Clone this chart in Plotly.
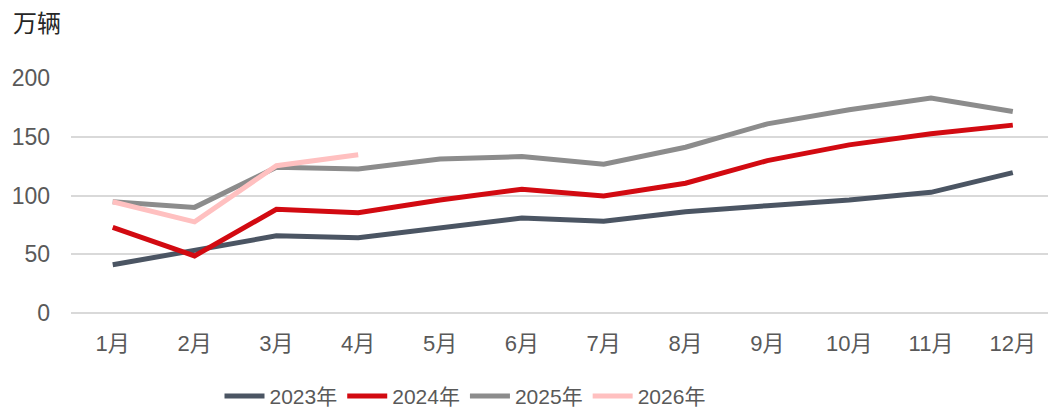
import plotly.graph_objects as go

months = ["1月", "2月", "3月", "4月", "5月", "6月", "7月", "8月", "9月", "10月", "11月", "12月"]
y2023 = [41, 53.5, 65.7, 64, 72.5, 80.8, 78, 86.2, 91.3, 96.2, 102.7, 119.5]
y2024 = [72.9, 48.6, 88.2, 85.3, 96.2, 105.3, 99.6, 110.4, 129.7, 143.1, 152.5, 159.9]
y2025 = [94.7, 89.9, 124, 122.6, 131.1, 133.1, 126.6, 141.1, 161, 173, 182.9, 171.5]
y2026 = [94.7, 77.6, 125.4, 134.6]
y_ticks = [0, 50, 100, 150, 200]

series = [
    ("2023年", y2023, "#4b5563"),
    ("2024年", y2024, "#d20a11"),
    ("2025年", y2025, "#8c8c8c"),
    ("2026年", y2026, "#ffc0c0"),
]

fig = go.Figure()
for name, vals, color in series:
    fig.add_trace(go.Scatter(
        x=months[:len(vals)], y=vals, name=name, mode="lines",
        line=dict(color=color, width=5),
    ))

text_color = "#595959"
grid_color = "#d9d9d9"

fig.update_layout(
    width=1048, height=408,
    margin=dict(l=71, r=0, t=78, b=95, autoexpand=False),
    paper_bgcolor="white", plot_bgcolor="white",
    font=dict(family="Liberation Sans, Arial, Noto Sans CJK SC", size=22, color=text_color),
    showlegend=True,
    legend=dict(
        orientation="h", x=0.152, xanchor="left", y=-0.355, yanchor="middle",
        font=dict(size=21, color=text_color), itemwidth=40, traceorder="normal",
        tracegroupgap=0,
    ),
    xaxis=dict(
        type="category", categoryorder="array", categoryarray=months,
        range=[-0.51, 11.43], showgrid=False, showline=False, ticks="",
        tickfont=dict(size=22, color=text_color), ticklabelstandoff=15,
    ),
    yaxis=dict(
        range=[0, 200], tickvals=y_ticks, showgrid=True, gridcolor=grid_color, gridwidth=1.5,
        zeroline=True, zerolinecolor=grid_color, zerolinewidth=1.5,
        showline=False, ticks="", ticklabelstandoff=20,
        tickfont=dict(size=23, color=text_color),
    ),
    annotations=[dict(
        text="万辆", xref="paper", yref="paper", x=-0.061, y=1.24,
        xanchor="left", yanchor="middle", showarrow=False,
        font=dict(size=24, color="#262626", family="Noto Sans CJK SC"),
    )],
)

fig.write_html("out.html")
